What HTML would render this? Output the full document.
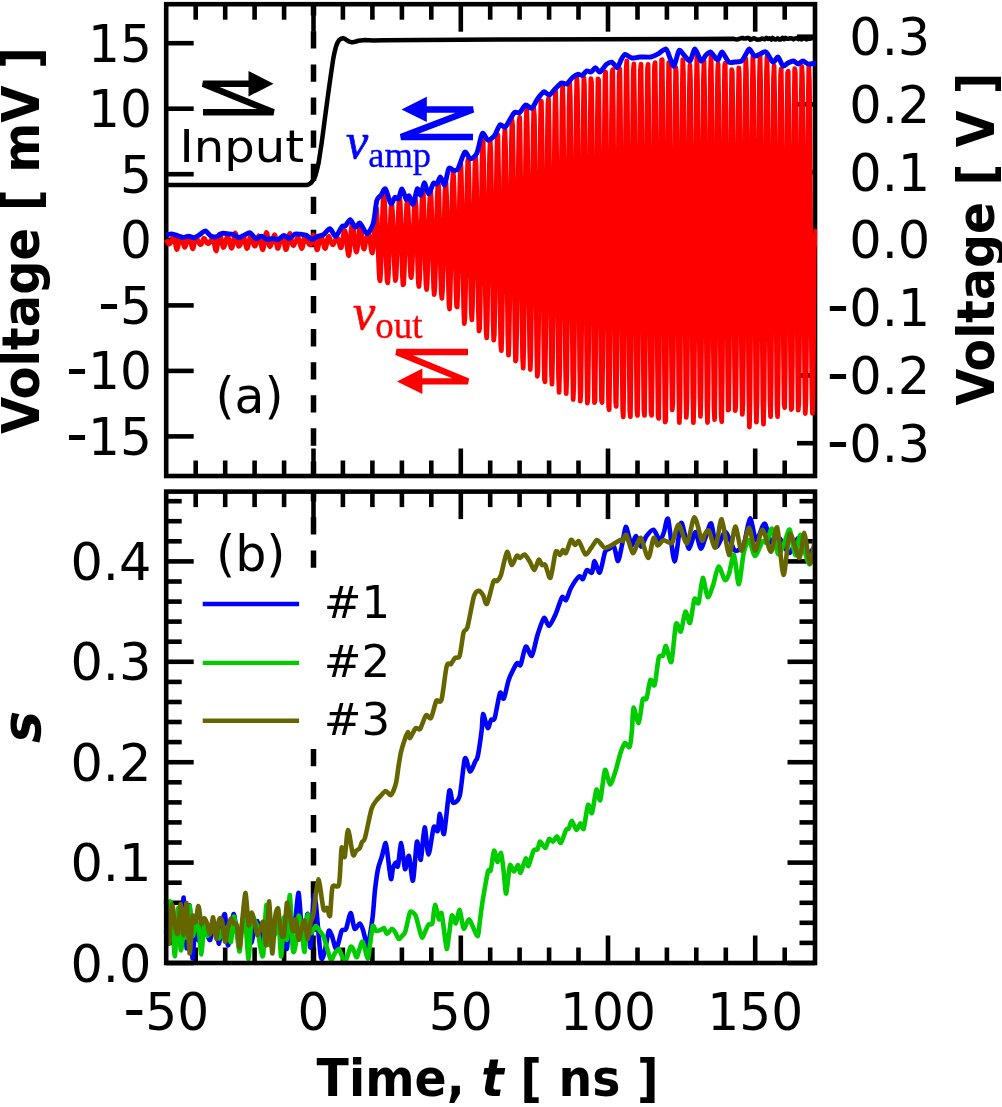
<!DOCTYPE html>
<html lang="en">
<head>
<meta charset="utf-8">
<title>Figure</title>
<style>
html,body{margin:0;padding:0;background:#fff;}
body{width:1002px;height:1107px;overflow:hidden;}
svg{display:block;}
</style>
</head>
<body>
<svg width="1002" height="1107" viewBox="0 0 1002 1107">
<rect x="0" y="0" width="1002" height="1107" fill="#ffffff"/>
<defs><clipPath id="clipA"><rect x="163.9" y="4.2" width="653.2" height="471.8"/></clipPath></defs>
<line x1="195.7" y1="4.2" x2="195.7" y2="19.7" stroke="#000" stroke-width="4.60" />
<line x1="195.7" y1="476.0" x2="195.7" y2="460.5" stroke="#000" stroke-width="4.60" />
<line x1="225.2" y1="4.2" x2="225.2" y2="19.7" stroke="#000" stroke-width="4.60" />
<line x1="225.2" y1="476.0" x2="225.2" y2="460.5" stroke="#000" stroke-width="4.60" />
<line x1="254.6" y1="4.2" x2="254.6" y2="19.7" stroke="#000" stroke-width="4.60" />
<line x1="254.6" y1="476.0" x2="254.6" y2="460.5" stroke="#000" stroke-width="4.60" />
<line x1="284.1" y1="4.2" x2="284.1" y2="19.7" stroke="#000" stroke-width="4.60" />
<line x1="284.1" y1="476.0" x2="284.1" y2="460.5" stroke="#000" stroke-width="4.60" />
<line x1="313.5" y1="4.2" x2="313.5" y2="31.7" stroke="#000" stroke-width="4.60" />
<line x1="313.5" y1="476.0" x2="313.5" y2="448.5" stroke="#000" stroke-width="4.60" />
<line x1="342.9" y1="4.2" x2="342.9" y2="19.7" stroke="#000" stroke-width="4.60" />
<line x1="342.9" y1="476.0" x2="342.9" y2="460.5" stroke="#000" stroke-width="4.60" />
<line x1="372.4" y1="4.2" x2="372.4" y2="19.7" stroke="#000" stroke-width="4.60" />
<line x1="372.4" y1="476.0" x2="372.4" y2="460.5" stroke="#000" stroke-width="4.60" />
<line x1="401.9" y1="4.2" x2="401.9" y2="19.7" stroke="#000" stroke-width="4.60" />
<line x1="401.9" y1="476.0" x2="401.9" y2="460.5" stroke="#000" stroke-width="4.60" />
<line x1="431.3" y1="4.2" x2="431.3" y2="19.7" stroke="#000" stroke-width="4.60" />
<line x1="431.3" y1="476.0" x2="431.3" y2="460.5" stroke="#000" stroke-width="4.60" />
<line x1="460.8" y1="4.2" x2="460.8" y2="31.7" stroke="#000" stroke-width="4.60" />
<line x1="460.8" y1="476.0" x2="460.8" y2="448.5" stroke="#000" stroke-width="4.60" />
<line x1="490.2" y1="4.2" x2="490.2" y2="19.7" stroke="#000" stroke-width="4.60" />
<line x1="490.2" y1="476.0" x2="490.2" y2="460.5" stroke="#000" stroke-width="4.60" />
<line x1="519.6" y1="4.2" x2="519.6" y2="19.7" stroke="#000" stroke-width="4.60" />
<line x1="519.6" y1="476.0" x2="519.6" y2="460.5" stroke="#000" stroke-width="4.60" />
<line x1="549.1" y1="4.2" x2="549.1" y2="19.7" stroke="#000" stroke-width="4.60" />
<line x1="549.1" y1="476.0" x2="549.1" y2="460.5" stroke="#000" stroke-width="4.60" />
<line x1="578.5" y1="4.2" x2="578.5" y2="19.7" stroke="#000" stroke-width="4.60" />
<line x1="578.5" y1="476.0" x2="578.5" y2="460.5" stroke="#000" stroke-width="4.60" />
<line x1="608.0" y1="4.2" x2="608.0" y2="31.7" stroke="#000" stroke-width="4.60" />
<line x1="608.0" y1="476.0" x2="608.0" y2="448.5" stroke="#000" stroke-width="4.60" />
<line x1="637.5" y1="4.2" x2="637.5" y2="19.7" stroke="#000" stroke-width="4.60" />
<line x1="637.5" y1="476.0" x2="637.5" y2="460.5" stroke="#000" stroke-width="4.60" />
<line x1="666.9" y1="4.2" x2="666.9" y2="19.7" stroke="#000" stroke-width="4.60" />
<line x1="666.9" y1="476.0" x2="666.9" y2="460.5" stroke="#000" stroke-width="4.60" />
<line x1="696.3" y1="4.2" x2="696.3" y2="19.7" stroke="#000" stroke-width="4.60" />
<line x1="696.3" y1="476.0" x2="696.3" y2="460.5" stroke="#000" stroke-width="4.60" />
<line x1="725.8" y1="4.2" x2="725.8" y2="19.7" stroke="#000" stroke-width="4.60" />
<line x1="725.8" y1="476.0" x2="725.8" y2="460.5" stroke="#000" stroke-width="4.60" />
<line x1="755.2" y1="4.2" x2="755.2" y2="31.7" stroke="#000" stroke-width="4.60" />
<line x1="755.2" y1="476.0" x2="755.2" y2="448.5" stroke="#000" stroke-width="4.60" />
<line x1="784.7" y1="4.2" x2="784.7" y2="19.7" stroke="#000" stroke-width="4.60" />
<line x1="784.7" y1="476.0" x2="784.7" y2="460.5" stroke="#000" stroke-width="4.60" />
<line x1="166.2" y1="436.4" x2="193.7" y2="436.4" stroke="#000" stroke-width="4.60" />
<line x1="166.2" y1="370.9" x2="193.7" y2="370.9" stroke="#000" stroke-width="4.60" />
<line x1="166.2" y1="305.4" x2="193.7" y2="305.4" stroke="#000" stroke-width="4.60" />
<line x1="166.2" y1="239.8" x2="193.7" y2="239.8" stroke="#000" stroke-width="4.60" />
<line x1="166.2" y1="174.2" x2="193.7" y2="174.2" stroke="#000" stroke-width="4.60" />
<line x1="166.2" y1="108.7" x2="193.7" y2="108.7" stroke="#000" stroke-width="4.60" />
<line x1="166.2" y1="43.2" x2="193.7" y2="43.2" stroke="#000" stroke-width="4.60" />
<line x1="815.0" y1="443.2" x2="797.0" y2="443.2" stroke="#000" stroke-width="4.60" />
<line x1="815.0" y1="375.4" x2="797.0" y2="375.4" stroke="#000" stroke-width="4.60" />
<line x1="815.0" y1="307.7" x2="797.0" y2="307.7" stroke="#000" stroke-width="4.60" />
<line x1="815.0" y1="239.9" x2="797.0" y2="239.9" stroke="#000" stroke-width="4.60" />
<line x1="815.0" y1="172.2" x2="797.0" y2="172.2" stroke="#000" stroke-width="4.60" />
<line x1="815.0" y1="104.4" x2="797.0" y2="104.4" stroke="#000" stroke-width="4.60" />
<line x1="815.0" y1="36.7" x2="797.0" y2="36.7" stroke="#000" stroke-width="4.60" />
<rect x="166.2" y="4.2" width="648.8" height="471.8" fill="none" stroke="#000" stroke-width="4.60"/>
<line x1="313.5" y1="4.2" x2="313.5" y2="476.0" stroke="#000" stroke-width="5.50" stroke-dasharray="17.3 15.79" stroke-dashoffset="6.0"/>
<path d="M166.2 185.0 L306.4 185.0 L309.0 184.3 L311.3 182.6 L313.3 180.0 L315.3 176.0 L317.0 170.0 L318.6 163.0 L321.8 142.0 L325.0 117.6 L328.3 93.0 L330.8 75.3 L333.2 59.0 L334.5 52.5 L335.7 47.6 L337.2 43.3 L338.9 40.3 L341.0 38.7 L343.0 38.2 L345.0 38.9 L347.0 40.3 L349.5 41.7 L352.0 42.4 L355.0 41.7 L358.4 40.8 L365.0 40.0 L373.0 40.5 L384.4 40.2 L420.0 40.0 L500.0 39.6 L600.0 39.2 L700.0 38.9 L734.0 38.8 L736.0 39.4 L737.6 39.4 L739.2 38.8 L740.8 38.4 L742.4 37.9 L744.0 38.6 L745.6 38.6 L747.2 37.9 L748.8 37.9 L750.4 39.8 L752.0 39.1 L753.6 38.3 L755.2 38.7 L756.8 39.7 L758.4 39.6 L760.0 39.5 L761.6 38.6 L763.2 38.8 L764.8 39.2 L766.4 37.9 L768.0 38.9 L769.6 38.3 L771.2 39.6 L772.8 37.9 L774.4 39.2 L776.0 39.5 L777.6 38.3 L779.2 39.6 L780.8 39.5 L782.4 37.8 L784.0 39.2 L785.6 37.8 L787.2 38.8 L788.8 38.7 L790.4 38.2 L792.0 38.4 L793.6 39.4 L795.2 38.4 L796.8 38.1 L798.4 39.2 L800.0 38.7 L801.6 39.4 L803.2 38.3 L804.8 38.4 L806.4 39.4 L808.0 38.8 L809.6 38.8 L811.2 38.3 L812.8 37.8 L815.0 38.8" fill="none" stroke="#000" stroke-width="4.50" stroke-linejoin="round" stroke-linecap="butt" />
<path d="M166.2 239.4 L166.8 240.6 L167.4 241.9 L168.0 243.0 L168.6 243.8 L169.2 244.0 L169.8 243.7 L170.4 243.0 L171.0 242.3 L171.6 241.1 L172.1 239.2 L172.7 237.2 L173.3 236.0 L173.9 236.1 L174.5 237.9 L175.1 241.4 L175.7 245.5 L176.3 248.4 L176.9 249.5 L177.4 248.7 L178.0 246.6 L178.6 243.8 L179.2 240.9 L179.8 238.8 L180.4 237.3 L181.0 236.7 L181.6 237.2 L182.2 238.8 L182.7 241.1 L183.3 243.7 L183.9 246.0 L184.5 247.3 L185.1 247.1 L185.7 245.8 L186.3 243.7 L186.9 241.4 L187.5 239.5 L188.0 238.2 L188.6 237.9 L189.2 238.3 L189.8 239.1 L190.4 240.8 L191.0 243.2 L191.6 245.8 L192.2 247.8 L192.8 248.7 L193.3 247.9 L193.9 245.3 L194.5 241.9 L195.1 239.1 L195.7 237.6 L196.3 237.5 L196.9 238.4 L197.5 239.8 L198.1 241.2 L198.6 242.2 L199.2 243.2 L199.8 244.1 L200.4 244.6 L201.0 244.5 L201.6 243.7 L202.2 242.2 L202.8 240.3 L203.4 238.9 L203.9 238.3 L204.5 238.6 L205.1 239.6 L205.7 240.8 L206.3 242.0 L206.9 242.9 L207.5 243.3 L208.1 243.6 L208.7 243.5 L209.2 243.0 L209.8 242.2 L210.4 241.2 L211.0 240.3 L211.6 239.7 L212.2 239.3 L212.8 239.0 L213.4 239.8 L214.0 241.8 L214.5 244.9 L215.1 248.0 L215.7 250.3 L216.3 250.9 L216.9 248.6 L217.5 244.4 L218.1 240.0 L218.7 236.4 L219.3 234.3 L219.8 234.0 L220.4 235.4 L221.0 238.1 L221.6 241.2 L222.2 244.2 L222.8 246.4 L223.4 247.4 L224.0 247.1 L224.6 245.7 L225.2 243.6 L225.7 241.3 L226.3 239.2 L226.9 237.6 L227.5 236.9 L228.1 237.2 L228.7 238.6 L229.3 240.8 L229.9 243.4 L230.5 245.7 L231.0 247.5 L231.6 248.2 L232.2 247.4 L232.8 245.1 L233.4 241.7 L234.0 237.9 L234.6 234.6 L235.2 233.0 L235.8 234.0 L236.3 236.6 L236.9 239.9 L237.5 243.0 L238.1 245.2 L238.7 246.2 L239.3 246.0 L239.9 245.3 L240.5 244.1 L241.1 242.2 L241.6 240.0 L242.2 237.9 L242.8 236.5 L243.4 236.2 L244.0 237.2 L244.6 239.5 L245.2 242.4 L245.8 245.3 L246.4 247.5 L246.9 248.5 L247.5 248.0 L248.1 246.1 L248.7 243.2 L249.3 239.9 L249.9 237.5 L250.5 236.2 L251.1 236.4 L251.7 237.6 L252.2 239.6 L252.8 241.8 L253.4 243.6 L254.0 245.2 L254.6 246.1 L255.2 246.1 L255.8 245.1 L256.4 243.3 L257.0 240.9 L257.5 238.6 L258.1 236.8 L258.7 235.9 L259.3 236.4 L259.9 238.2 L260.5 241.0 L261.1 244.3 L261.7 247.4 L262.3 249.4 L262.8 249.7 L263.4 248.2 L264.0 245.2 L264.6 241.2 L265.2 237.2 L265.8 234.1 L266.4 232.5 L267.0 233.0 L267.6 236.2 L268.1 240.1 L268.7 243.5 L269.3 245.8 L269.9 246.6 L270.5 246.0 L271.1 244.5 L271.7 243.0 L272.3 241.9 L272.9 240.0 L273.4 237.6 L274.0 235.6 L274.6 234.9 L275.2 235.9 L275.8 238.8 L276.4 243.1 L277.0 246.7 L277.6 248.4 L278.2 248.2 L278.7 246.6 L279.3 244.3 L279.9 242.3 L280.5 241.1 L281.1 240.3 L281.7 239.1 L282.3 238.2 L282.9 238.3 L283.5 239.5 L284.1 241.9 L284.6 245.0 L285.2 248.1 L285.8 249.6 L286.4 249.3 L287.0 247.2 L287.6 244.0 L288.2 240.1 L288.8 236.6 L289.4 234.2 L289.9 233.4 L290.5 235.2 L291.1 238.1 L291.7 241.2 L292.3 243.8 L292.9 245.2 L293.5 245.5 L294.1 244.7 L294.7 243.6 L295.2 242.8 L295.8 241.6 L296.4 240.1 L297.0 238.8 L297.6 238.0 L298.2 238.1 L298.8 239.0 L299.4 240.8 L300.0 243.2 L300.5 245.6 L301.1 247.6 L301.7 248.5 L302.3 247.8 L302.9 245.6 L303.5 242.1 L304.1 238.4 L304.7 236.2 L305.3 235.7 L305.8 236.7 L306.4 238.6 L307.0 240.6 L307.6 242.2 L308.2 242.9 L308.8 243.7 L309.4 244.6 L310.0 244.9 L310.6 244.2 L311.1 242.5 L311.7 240.2 L312.3 237.6 L312.9 235.6 L313.5 235.1 L314.1 236.2 L314.7 238.6 L315.3 241.9 L315.9 245.4 L316.4 248.2 L317.0 249.8 L317.6 249.5 L318.2 247.2 L318.8 243.9 L319.4 240.5 L320.0 237.7 L320.6 236.1 L321.2 235.8 L321.7 236.9 L322.3 238.8 L322.9 241.2 L323.5 243.9 L324.1 246.5 L324.7 248.2 L325.3 248.5 L325.9 247.3 L326.5 244.8 L327.0 241.4 L327.6 238.5 L328.2 236.8 L328.8 236.4 L329.4 237.4 L330.0 239.0 L330.6 240.8 L331.2 242.4 L331.8 243.8 L332.3 244.6 L332.9 244.8 L333.5 244.2 L334.1 243.0 L334.7 241.5 L335.3 240.2 L335.9 239.1 L336.5 238.1 L337.1 237.6 L337.6 238.0 L338.2 239.3 L338.8 241.4 L339.4 244.0 L340.0 246.4 L340.6 247.8 L341.2 247.7 L341.8 245.9 L342.4 242.3 L343.0 238.1 L343.5 234.2 L344.1 231.4 L344.7 230.5 L345.3 231.8 L345.9 234.8 L346.5 239.7 L347.1 245.6 L347.7 251.1 L348.3 254.8 L348.8 255.5 L349.4 252.5 L350.0 246.0 L350.6 237.4 L351.2 229.9 L351.8 225.2 L352.4 224.1 L353.0 226.5 L353.6 231.4 L354.1 237.5 L354.7 243.3 L355.3 247.7 L355.9 251.0 L356.5 252.1 L357.1 250.3 L357.7 246.0 L358.3 239.9 L358.9 233.4 L359.4 227.8 L360.0 224.6 L360.6 226.0 L361.2 230.2 L361.8 235.8 L362.4 241.6 L363.0 246.2 L363.6 248.8 L364.2 249.0 L364.7 247.2 L365.3 244.1 L365.9 240.8 L366.5 238.0 L367.1 236.1 L367.7 234.0 L368.3 232.8 L368.9 233.3 L369.5 235.8 L370.0 239.9 L370.6 244.9 L371.2 249.6 L371.8 252.6 L372.4 252.9 L373.0 250.1 L373.6 244.8 L374.2 236.1 L374.8 224.9 L375.3 214.3 L375.9 207.7 L376.5 208.3 L377.1 218.2 L377.7 234.7 L378.3 252.9 L378.9 269.0 L379.5 279.1 L380.1 280.8 L380.6 273.4 L381.2 258.3 L381.8 238.5 L382.4 218.3 L383.0 202.1 L383.6 193.7 L384.2 195.4 L384.8 207.0 L385.4 226.2 L385.9 248.9 L386.5 268.2 L387.1 280.2 L387.7 282.8 L388.3 276.0 L388.9 262.1 L389.5 244.4 L390.1 227.2 L390.7 214.1 L391.2 205.7 L391.8 204.2 L392.4 210.6 L393.0 223.8 L393.6 241.3 L394.2 259.3 L394.8 273.7 L395.4 280.5 L396.0 278.0 L396.5 267.3 L397.1 250.7 L397.7 231.9 L398.3 215.1 L398.9 202.6 L399.5 197.4 L400.1 201.4 L400.7 214.6 L401.3 234.4 L401.9 257.0 L402.4 275.4 L403.0 284.9 L403.6 284.2 L404.2 273.9 L404.8 257.0 L405.4 237.6 L406.0 219.9 L406.6 206.6 L407.2 199.9 L407.7 201.9 L408.3 212.5 L408.9 229.7 L409.5 249.4 L410.1 266.0 L410.7 276.0 L411.3 277.5 L411.9 270.8 L412.5 257.7 L413.0 241.6 L413.6 224.9 L414.2 209.8 L414.8 200.1 L415.4 198.9 L416.0 207.5 L416.6 224.6 L417.2 247.1 L417.8 268.4 L418.3 282.5 L418.9 286.5 L419.5 280.0 L420.1 264.9 L420.7 244.9 L421.3 223.9 L421.9 204.6 L422.5 192.1 L423.1 189.8 L423.6 199.3 L424.2 219.3 L424.8 245.4 L425.4 269.0 L426.0 284.7 L426.6 289.5 L427.2 282.9 L427.8 267.2 L428.4 246.3 L428.9 224.8 L429.5 205.6 L430.1 193.5 L430.7 191.7 L431.3 201.2 L431.9 220.3 L432.5 245.0 L433.1 269.6 L433.7 287.9 L434.2 294.6 L434.8 288.6 L435.4 271.5 L436.0 247.0 L436.6 221.0 L437.2 199.0 L437.8 185.4 L438.4 184.2 L439.0 196.2 L439.5 219.1 L440.1 247.8 L440.7 275.1 L441.3 293.2 L441.9 298.3 L442.5 289.9 L443.1 270.2 L443.7 244.2 L444.3 218.2 L444.8 197.0 L445.4 183.8 L446.0 183.4 L446.6 196.9 L447.2 222.1 L447.8 253.5 L448.4 283.7 L449.0 304.6 L449.6 309.0 L450.1 296.9 L450.7 271.5 L451.3 238.7 L451.9 206.4 L452.5 182.2 L453.1 171.8 L453.7 177.7 L454.3 198.0 L454.9 228.4 L455.4 261.7 L456.0 290.0 L456.6 306.4 L457.2 306.9 L457.8 291.3 L458.4 263.4 L459.0 228.9 L459.6 195.7 L460.2 172.1 L460.8 164.2 L461.3 174.7 L461.9 201.6 L462.5 238.9 L463.1 277.7 L463.7 308.6 L464.3 323.6 L464.9 318.1 L465.5 292.0 L466.1 253.7 L466.6 212.6 L467.2 178.7 L467.8 160.2 L468.4 161.2 L469.0 181.3 L469.6 215.3 L470.2 254.6 L470.8 290.3 L471.4 314.1 L471.9 319.8 L472.5 305.9 L473.1 275.4 L473.7 235.7 L474.3 196.5 L474.9 167.6 L475.5 156.2 L476.1 165.4 L476.7 193.1 L477.2 232.5 L477.8 275.5 L478.4 311.5 L479.0 331.0 L479.6 328.4 L480.2 303.1 L480.8 260.8 L481.4 211.3 L482.0 167.0 L482.5 140.4 L483.1 139.7 L483.7 163.6 L484.3 205.9 L484.9 256.0 L485.5 301.3 L486.1 331.0 L486.7 337.8 L487.3 320.3 L487.8 283.3 L488.4 235.9 L489.0 189.1 L489.6 154.5 L490.2 140.9 L490.8 151.9 L491.4 185.0 L492.0 232.0 L492.6 281.4 L493.1 320.8 L493.7 340.2 L494.3 334.7 L494.9 305.8 L495.5 259.6 L496.1 207.4 L496.7 162.2 L497.3 135.6 L497.9 134.8 L498.4 160.6 L499.0 206.9 L499.6 262.6 L500.2 313.3 L500.8 345.2 L501.4 350.7 L502.0 328.4 L502.6 284.0 L503.2 228.7 L503.7 176.4 L504.3 140.3 L504.9 129.2 L505.5 145.8 L506.1 185.5 L506.7 239.7 L507.3 294.9 L507.9 337.0 L508.5 355.1 L509.0 344.2 L509.6 306.6 L510.2 251.3 L510.8 192.2 L511.4 144.3 L512.0 120.0 L512.6 125.7 L513.2 160.7 L513.8 216.4 L514.3 278.8 L514.9 331.5 L515.5 361.0 L516.1 359.8 L516.7 328.1 L517.3 274.1 L517.9 211.3 L518.5 155.8 L519.1 121.6 L519.7 117.3 L520.2 143.7 L520.8 195.0 L521.4 258.4 L522.0 317.8 L522.6 357.9 L523.2 368.2 L523.8 345.7 L524.4 295.8 L525.0 230.9 L525.5 167.6 L526.1 122.9 L526.7 108.3 L527.3 127.3 L527.9 174.9 L528.5 238.8 L529.1 302.7 L529.7 350.3 L530.3 369.5 L530.8 355.4 L531.4 311.8 L532.0 250.0 L532.6 184.9 L533.2 133.0 L533.8 108.0 L534.4 116.7 L535.0 157.4 L535.6 220.1 L536.1 288.8 L536.7 345.9 L537.3 376.3 L537.9 371.5 L538.5 332.5 L539.1 269.0 L539.7 197.3 L540.3 135.8 L540.9 100.8 L541.4 101.5 L542.0 138.2 L542.6 201.5 L543.2 275.4 L543.8 340.7 L544.4 379.3 L545.0 381.8 L545.6 347.5 L546.2 285.5 L546.7 212.1 L547.3 146.1 L547.9 104.8 L548.5 98.6 L549.1 129.1 L549.7 187.8 L550.3 260.4 L550.9 328.2 L551.5 373.5 L552.0 384.2 L552.6 357.3 L553.2 299.4 L553.8 225.3 L554.4 154.4 L555.0 105.2 L555.6 91.0 L556.2 115.6 L556.8 173.1 L557.3 248.5 L557.9 322.2 L558.5 374.9 L559.1 392.4 L559.7 370.0 L560.3 313.2 L560.9 236.6 L561.5 160.3 L562.1 105.0 L562.6 85.0 L563.2 105.7 L563.8 161.4 L564.4 237.7 L565.0 314.3 L565.6 371.3 L566.2 393.7 L566.8 375.7 L567.4 322.4 L567.9 247.0 L568.5 169.1 L569.1 109.1 L569.7 83.1 L570.3 98.2 L570.9 150.9 L571.5 227.5 L572.1 307.9 L572.7 370.8 L573.2 399.5 L573.8 386.2 L574.4 334.2 L575.0 257.0 L575.6 174.9 L576.2 109.5 L576.8 78.1 L577.4 89.3 L578.0 140.4 L578.6 217.9 L579.1 301.1 L579.7 368.1 L580.3 401.2 L580.9 391.7 L581.5 342.2 L582.1 265.7 L582.7 182.3 L583.3 113.5 L583.9 77.7 L584.4 84.6 L585.0 132.7 L585.6 209.4 L586.2 294.7 L586.8 365.7 L587.4 403.1 L588.0 397.3 L588.6 350.0 L589.2 273.7 L589.7 188.7 L590.3 117.4 L590.9 78.7 L591.5 82.1 L592.1 127.3 L592.7 202.5 L593.3 288.1 L593.9 361.3 L594.5 402.6 L595.0 401.0 L595.6 356.3 L596.2 280.4 L596.8 194.2 L597.4 120.6 L598.0 78.8 L598.6 79.9 L599.2 123.2 L599.8 197.2 L600.3 282.3 L600.9 356.9 L601.5 400.9 L602.1 402.4 L602.7 360.6 L603.3 286.1 L603.9 198.5 L604.5 121.2 L605.1 74.8 L605.6 72.0 L606.2 114.1 L606.8 190.2 L607.4 279.8 L608.0 358.9 L608.6 406.4 L609.2 409.7 L609.8 367.7 L610.4 291.6 L610.9 201.5 L611.5 121.4 L612.1 73.1 L612.7 69.7 L613.3 111.4 L613.9 187.0 L614.5 276.0 L615.1 354.7 L615.7 402.3 L616.2 406.4 L616.8 366.1 L617.4 292.8 L618.0 205.2 L618.6 125.6 L619.2 75.5 L619.8 68.9 L620.4 108.2 L621.0 183.4 L621.5 274.9 L622.1 357.8 L622.7 409.9 L623.3 416.8 L623.9 376.2 L624.5 298.5 L625.1 204.4 L625.7 119.6 L626.3 67.2 L626.8 61.0 L627.4 102.6 L628.0 180.8 L628.6 274.6 L629.2 358.6 L629.8 410.6 L630.4 416.7 L631.0 375.4 L631.6 298.1 L632.1 205.5 L632.7 122.2 L633.3 70.4 L633.9 64.0 L634.5 104.8 L635.1 181.8 L635.7 274.4 L636.3 357.6 L636.9 409.2 L637.5 415.4 L638.0 374.4 L638.6 297.2 L639.2 204.7 L639.8 121.4 L640.4 70.0 L641.0 64.2 L641.6 105.6 L642.2 183.1 L642.8 275.9 L643.3 359.0 L643.9 410.1 L644.5 415.4 L645.1 373.4 L645.7 295.4 L646.3 202.4 L646.9 119.4 L647.5 68.9 L648.1 64.3 L648.6 107.1 L649.2 185.6 L649.8 278.8 L650.4 361.5 L651.0 411.5 L651.6 415.4 L652.2 371.9 L652.8 292.5 L653.4 198.6 L653.9 115.4 L654.5 65.6 L655.1 62.7 L655.7 107.7 L656.3 188.6 L656.9 283.7 L657.5 367.3 L658.1 416.6 L658.7 418.4 L659.2 371.8 L659.8 289.1 L660.4 192.7 L661.0 108.6 L661.6 59.8 L662.2 59.7 L662.8 108.4 L663.4 192.8 L664.0 290.3 L664.5 374.3 L665.1 422.0 L665.7 420.5 L666.3 369.3 L666.9 283.3 L667.5 186.9 L668.1 106.2 L668.7 62.7 L669.3 67.5 L669.8 118.7 L670.4 201.7 L671.0 293.7 L671.6 369.9 L672.2 409.9 L672.8 403.6 L673.4 353.2 L674.0 272.8 L674.6 183.7 L675.1 108.2 L675.7 67.3 L676.3 73.0 L676.9 124.6 L677.5 208.9 L678.1 303.4 L678.7 382.3 L679.3 422.5 L679.9 411.9 L680.4 354.7 L681.0 266.6 L681.6 171.8 L682.2 95.9 L682.8 59.6 L683.4 72.4 L684.0 130.6 L684.6 218.2 L685.2 311.2 L685.7 384.1 L686.3 417.4 L686.9 402.1 L687.5 342.8 L688.1 255.9 L688.7 165.1 L689.3 95.3 L689.9 65.2 L690.5 81.5 L691.0 141.1 L691.6 228.9 L692.2 321.1 L692.8 392.3 L693.4 422.7 L694.0 403.2 L694.6 338.4 L695.2 245.4 L695.8 151.1 L696.4 82.0 L696.9 56.5 L697.5 81.1 L698.1 148.5 L698.7 239.8 L699.3 330.1 L699.9 394.6 L700.5 416.4 L701.1 390.1 L701.7 324.1 L702.2 234.3 L702.8 145.3 L703.4 81.5 L704.0 60.5 L704.6 88.5 L705.2 158.3 L705.8 250.9 L706.4 341.2 L707.0 404.2 L707.5 422.5 L708.1 390.9 L708.7 317.7 L709.3 222.9 L709.9 132.2 L710.5 70.5 L711.1 55.9 L711.7 91.5 L712.3 167.2 L712.8 262.1 L713.4 350.4 L714.0 408.0 L714.6 419.5 L715.2 382.0 L715.8 306.0 L716.4 212.4 L717.0 126.9 L717.6 72.7 L718.1 63.9 L718.7 102.1 L719.3 178.6 L719.9 273.0 L720.5 359.4 L721.1 414.1 L721.7 421.6 L722.3 378.5 L722.9 297.0 L723.4 200.8 L724.0 116.0 L724.6 65.8 L725.2 63.3 L725.8 108.8 L726.4 189.5 L727.0 283.0 L727.6 363.9 L728.2 410.1 L728.7 409.6 L729.3 363.6 L729.9 283.9 L730.5 192.2 L731.1 113.6 L731.7 69.6 L732.3 72.1 L732.9 120.3 L733.5 201.1 L734.0 292.3 L734.6 369.1 L735.2 410.6 L735.8 405.4 L736.4 355.0 L737.0 273.2 L737.6 182.3 L738.2 107.1 L738.8 67.9 L739.3 75.7 L739.9 128.4 L740.5 211.5 L741.1 302.6 L741.7 376.7 L742.3 414.4 L742.9 404.5 L743.5 349.3 L744.1 263.4 L744.6 170.0 L745.2 94.9 L745.8 58.7 L746.4 71.8 L747.0 131.3 L747.6 221.1 L748.2 316.9 L748.8 392.6 L749.4 427.0 L749.9 409.0 L750.5 345.0 L751.1 252.9 L751.7 157.9 L752.3 86.0 L752.9 56.4 L753.5 77.0 L754.1 141.7 L754.7 232.5 L755.3 325.1 L755.8 394.7 L756.4 422.1 L757.0 399.8 L757.6 333.6 L758.2 241.6 L758.8 148.8 L759.4 80.6 L760.0 55.8 L760.6 81.3 L761.1 150.2 L761.7 243.7 L762.3 336.1 L762.9 402.4 L763.5 424.2 L764.1 395.8 L764.7 324.7 L765.3 230.3 L765.9 138.5 L766.4 74.9 L767.0 56.9 L767.6 88.8 L768.2 161.4 L768.8 254.6 L769.4 342.7 L770.0 402.0 L770.6 416.6 L771.2 383.0 L771.7 310.9 L772.3 220.1 L772.9 135.5 L773.5 78.9 L774.1 65.9 L774.7 100.4 L775.3 173.4 L775.9 265.1 L776.5 350.5 L777.0 406.2 L777.6 416.7 L778.2 378.3 L778.8 301.7 L779.4 209.2 L780.0 126.1 L780.6 74.8 L781.2 68.8 L781.8 109.4 L782.3 184.9 L782.9 274.4 L783.5 354.3 L784.1 403.2 L784.7 407.6 L785.3 366.1 L785.9 289.8 L786.5 199.6 L787.1 120.0 L787.6 72.8 L788.2 71.2 L788.8 115.8 L789.4 194.3 L790.0 285.6 L790.6 364.5 L791.2 409.5 L791.8 408.3 L792.4 361.0 L792.9 280.4 L793.5 188.5 L794.1 110.9 L794.7 68.7 L795.3 73.3 L795.9 123.2 L796.5 204.8 L797.1 295.5 L797.7 370.7 L798.2 410.2 L798.8 403.6 L799.4 352.1 L800.0 269.7 L800.6 178.7 L801.2 104.1 L801.8 66.3 L802.4 75.8 L803.0 130.2 L803.5 214.9 L804.1 306.2 L804.7 379.0 L805.3 413.5 L805.9 400.6 L806.5 343.9 L807.1 259.1 L807.7 169.3 L808.3 99.0 L808.8 67.0 L809.4 82.2 L810.0 140.4 L810.6 225.8 L811.2 315.1 L811.8 383.8 L812.4 413.3 L813.0 395.3 L813.6 334.9 L814.2 248.5 L816.2 229.0" fill="none" stroke="#ff0000" stroke-width="4.80" stroke-linejoin="round" stroke-linecap="butt" clip-path="url(#clipA)"/>
<path d="M166.2 234.8 C166.9 234.7 170.3 233.8 171.8 233.9 C173.3 234.0 175.9 235.1 177.4 235.6 C178.9 236.1 181.5 237.3 183.0 237.4 C184.5 237.5 187.1 236.1 188.6 236.1 C190.1 236.2 192.7 237.9 194.2 237.7 C195.7 237.5 198.3 235.5 199.8 234.6 C201.3 233.7 203.9 230.7 205.4 230.9 C206.9 231.1 209.5 235.5 211.0 236.2 C212.5 237.0 215.1 237.0 216.6 236.6 C218.1 236.2 220.7 233.8 222.2 233.4 C223.7 233.0 226.3 233.6 227.8 233.8 C229.3 233.9 231.9 234.0 233.4 234.5 C234.9 235.0 237.5 237.4 239.0 237.5 C240.5 237.6 243.1 235.5 244.6 234.9 C246.1 234.3 248.7 232.3 250.2 232.8 C251.7 233.3 254.3 238.3 255.8 238.7 C257.3 239.1 259.9 236.0 261.4 236.1 C262.9 236.2 265.5 239.1 267.0 239.4 C268.5 239.8 271.1 238.5 272.6 238.5 C274.1 238.5 276.7 239.8 278.2 239.4 C279.7 239.0 282.3 235.6 283.8 235.5 C285.3 235.4 287.9 238.7 289.4 238.5 C290.9 238.3 293.5 234.6 295.0 234.0 C296.5 233.5 299.1 234.2 300.6 234.3 C302.1 234.5 304.7 234.7 306.2 235.3 C307.7 236.0 310.3 239.3 311.8 239.4 C313.3 239.6 315.9 237.0 317.4 236.4 C318.9 235.8 321.3 236.0 323.0 234.9 C324.7 233.9 328.3 228.5 330.0 228.7 C331.7 228.9 334.0 236.7 335.6 236.4 C337.2 236.1 340.6 228.0 341.9 226.6 C343.2 225.2 344.3 226.8 345.4 225.9 C346.5 225.0 349.0 219.4 350.3 219.6 C351.6 219.8 353.9 226.8 355.2 227.3 C356.5 227.8 358.4 222.3 360.0 223.1 C361.6 223.9 365.2 233.6 367.0 233.6 C368.8 233.6 372.0 227.5 373.3 223.1 C374.6 218.7 375.8 204.4 376.8 200.7 C377.8 197.0 379.8 196.8 381.0 195.2 C382.2 193.6 384.2 187.8 385.5 188.9 C386.8 190.0 389.5 202.4 390.8 203.5 C392.1 204.6 394.0 197.9 395.0 197.2 C396.0 196.5 397.6 199.7 398.5 198.6 C399.4 197.5 401.0 188.8 402.0 188.9 C403.0 189.0 405.3 198.4 406.2 199.3 C407.1 200.2 408.1 195.1 409.0 195.8 C409.9 196.5 412.0 205.1 413.1 204.2 C414.2 203.3 416.3 190.1 417.3 188.9 C418.3 187.7 419.9 196.0 420.8 195.2 C421.7 194.4 423.3 182.8 424.3 182.6 C425.3 182.4 427.3 193.7 428.5 193.8 C429.7 193.9 432.3 184.6 433.4 183.3 C434.5 182.0 436.0 184.8 436.9 184.0 C437.8 183.2 439.4 176.9 440.4 177.0 C441.4 177.1 443.5 185.8 444.6 184.7 C445.7 183.6 447.6 170.4 448.8 168.5 C450.0 166.6 452.6 170.5 453.8 170.5 C455.0 170.5 456.5 171.1 458.0 168.7 C459.5 166.3 463.2 153.5 464.8 152.2 C466.4 150.9 468.7 158.7 470.3 158.8 C471.9 158.9 475.2 156.7 476.8 153.3 C478.4 149.9 480.8 135.3 482.3 133.5 C483.8 131.7 486.2 139.7 487.8 140.0 C489.4 140.3 492.8 137.7 494.4 135.7 C496.0 133.7 498.5 126.0 500.0 124.8 C501.5 123.6 503.5 128.6 505.4 127.0 C507.3 125.4 512.3 114.6 514.2 112.7 C516.1 110.8 518.1 113.7 519.6 112.7 C521.1 111.7 524.0 105.6 525.6 105.0 C527.2 104.4 530.1 109.1 531.7 108.3 C533.3 107.5 535.9 101.2 537.5 99.0 C539.1 96.8 542.2 92.3 543.8 91.8 C545.4 91.3 547.8 95.4 549.3 95.0 C550.8 94.6 553.4 90.6 555.0 89.0 C556.6 87.4 559.8 83.7 561.4 83.0 C563.0 82.3 565.5 84.7 566.9 84.0 C568.3 83.3 570.5 79.3 572.0 78.0 C573.5 76.7 576.4 74.6 577.8 74.3 C579.2 74.0 581.0 75.8 582.2 75.4 C583.4 75.0 585.4 71.5 586.6 71.0 C587.8 70.5 589.8 72.4 591.0 72.0 C592.2 71.6 594.2 67.7 595.4 67.7 C596.6 67.7 598.3 72.4 599.8 72.0 C601.3 71.6 604.8 65.7 606.4 64.4 C608.0 63.1 610.4 61.8 611.9 62.2 C613.4 62.6 616.1 68.0 617.3 67.7 C618.5 67.4 620.0 61.8 621.0 60.0 C622.0 58.2 623.5 54.8 625.0 54.5 C626.5 54.2 630.0 57.7 632.0 58.0 C634.0 58.3 637.5 57.1 640.0 57.0 C642.5 56.9 648.6 57.4 651.0 57.0 C653.4 56.6 656.0 55.1 658.0 54.0 C660.0 52.9 664.4 48.5 666.0 49.0 C667.6 49.5 668.9 55.7 670.0 58.0 C671.1 60.3 672.8 67.0 674.0 66.0 C675.2 65.0 677.7 52.1 679.0 50.6 C680.3 49.1 682.5 53.6 684.0 55.0 C685.5 56.4 688.5 61.8 690.0 61.0 C691.5 60.2 693.5 49.0 695.0 49.0 C696.5 49.0 699.5 60.2 701.0 61.0 C702.5 61.8 704.7 56.2 706.0 55.0 C707.3 53.8 709.4 51.9 710.5 52.0 C711.6 52.1 713.0 54.9 714.0 56.0 C715.0 57.1 716.9 60.5 718.0 60.0 C719.1 59.5 720.6 51.7 722.0 52.0 C723.4 52.3 727.0 60.7 728.7 62.0 C730.4 63.3 733.3 62.1 735.0 62.0 C736.7 61.9 740.1 62.1 741.6 61.0 C743.1 59.9 745.0 55.6 746.0 54.0 C747.0 52.4 748.3 48.7 749.4 49.0 C750.5 49.3 753.2 55.3 754.6 56.0 C756.0 56.7 758.5 54.5 760.0 54.0 C761.5 53.5 764.3 50.9 766.0 52.0 C767.7 53.1 771.4 61.3 773.0 62.0 C774.6 62.7 776.7 56.5 778.0 57.0 C779.3 57.5 781.7 65.2 783.0 66.0 C784.3 66.8 786.6 63.7 788.0 63.0 C789.4 62.3 792.2 60.9 793.5 61.0 C794.8 61.1 796.7 64.0 798.0 64.0 C799.3 64.0 801.7 61.0 803.0 61.0 C804.3 61.0 806.7 63.7 808.0 64.0 C809.3 64.3 811.9 63.7 813.0 63.6 C814.1 63.5 815.6 63.6 816.0 63.6" fill="none" stroke="#0000ff" stroke-width="4.90" stroke-linejoin="round" stroke-linecap="butt" />
<line x1="195.7" y1="491.6" x2="195.7" y2="507.1" stroke="#000" stroke-width="4.60" />
<line x1="195.7" y1="963.0" x2="195.7" y2="947.5" stroke="#000" stroke-width="4.60" />
<line x1="225.2" y1="491.6" x2="225.2" y2="507.1" stroke="#000" stroke-width="4.60" />
<line x1="225.2" y1="963.0" x2="225.2" y2="947.5" stroke="#000" stroke-width="4.60" />
<line x1="254.6" y1="491.6" x2="254.6" y2="507.1" stroke="#000" stroke-width="4.60" />
<line x1="254.6" y1="963.0" x2="254.6" y2="947.5" stroke="#000" stroke-width="4.60" />
<line x1="284.1" y1="491.6" x2="284.1" y2="507.1" stroke="#000" stroke-width="4.60" />
<line x1="284.1" y1="963.0" x2="284.1" y2="947.5" stroke="#000" stroke-width="4.60" />
<line x1="313.5" y1="491.6" x2="313.5" y2="519.1" stroke="#000" stroke-width="4.60" />
<line x1="313.5" y1="963.0" x2="313.5" y2="935.5" stroke="#000" stroke-width="4.60" />
<line x1="342.9" y1="491.6" x2="342.9" y2="507.1" stroke="#000" stroke-width="4.60" />
<line x1="342.9" y1="963.0" x2="342.9" y2="947.5" stroke="#000" stroke-width="4.60" />
<line x1="372.4" y1="491.6" x2="372.4" y2="507.1" stroke="#000" stroke-width="4.60" />
<line x1="372.4" y1="963.0" x2="372.4" y2="947.5" stroke="#000" stroke-width="4.60" />
<line x1="401.9" y1="491.6" x2="401.9" y2="507.1" stroke="#000" stroke-width="4.60" />
<line x1="401.9" y1="963.0" x2="401.9" y2="947.5" stroke="#000" stroke-width="4.60" />
<line x1="431.3" y1="491.6" x2="431.3" y2="507.1" stroke="#000" stroke-width="4.60" />
<line x1="431.3" y1="963.0" x2="431.3" y2="947.5" stroke="#000" stroke-width="4.60" />
<line x1="460.8" y1="491.6" x2="460.8" y2="519.1" stroke="#000" stroke-width="4.60" />
<line x1="460.8" y1="963.0" x2="460.8" y2="935.5" stroke="#000" stroke-width="4.60" />
<line x1="490.2" y1="491.6" x2="490.2" y2="507.1" stroke="#000" stroke-width="4.60" />
<line x1="490.2" y1="963.0" x2="490.2" y2="947.5" stroke="#000" stroke-width="4.60" />
<line x1="519.6" y1="491.6" x2="519.6" y2="507.1" stroke="#000" stroke-width="4.60" />
<line x1="519.6" y1="963.0" x2="519.6" y2="947.5" stroke="#000" stroke-width="4.60" />
<line x1="549.1" y1="491.6" x2="549.1" y2="507.1" stroke="#000" stroke-width="4.60" />
<line x1="549.1" y1="963.0" x2="549.1" y2="947.5" stroke="#000" stroke-width="4.60" />
<line x1="578.5" y1="491.6" x2="578.5" y2="507.1" stroke="#000" stroke-width="4.60" />
<line x1="578.5" y1="963.0" x2="578.5" y2="947.5" stroke="#000" stroke-width="4.60" />
<line x1="608.0" y1="491.6" x2="608.0" y2="519.1" stroke="#000" stroke-width="4.60" />
<line x1="608.0" y1="963.0" x2="608.0" y2="935.5" stroke="#000" stroke-width="4.60" />
<line x1="637.5" y1="491.6" x2="637.5" y2="507.1" stroke="#000" stroke-width="4.60" />
<line x1="637.5" y1="963.0" x2="637.5" y2="947.5" stroke="#000" stroke-width="4.60" />
<line x1="666.9" y1="491.6" x2="666.9" y2="507.1" stroke="#000" stroke-width="4.60" />
<line x1="666.9" y1="963.0" x2="666.9" y2="947.5" stroke="#000" stroke-width="4.60" />
<line x1="696.3" y1="491.6" x2="696.3" y2="507.1" stroke="#000" stroke-width="4.60" />
<line x1="696.3" y1="963.0" x2="696.3" y2="947.5" stroke="#000" stroke-width="4.60" />
<line x1="725.8" y1="491.6" x2="725.8" y2="507.1" stroke="#000" stroke-width="4.60" />
<line x1="725.8" y1="963.0" x2="725.8" y2="947.5" stroke="#000" stroke-width="4.60" />
<line x1="755.2" y1="491.6" x2="755.2" y2="519.1" stroke="#000" stroke-width="4.60" />
<line x1="755.2" y1="963.0" x2="755.2" y2="935.5" stroke="#000" stroke-width="4.60" />
<line x1="784.7" y1="491.6" x2="784.7" y2="507.1" stroke="#000" stroke-width="4.60" />
<line x1="784.7" y1="963.0" x2="784.7" y2="947.5" stroke="#000" stroke-width="4.60" />
<line x1="166.2" y1="963.0" x2="193.7" y2="963.0" stroke="#000" stroke-width="4.60" />
<line x1="815.0" y1="963.0" x2="787.5" y2="963.0" stroke="#000" stroke-width="4.60" />
<line x1="166.2" y1="942.9" x2="181.7" y2="942.9" stroke="#000" stroke-width="4.60" />
<line x1="815.0" y1="942.9" x2="799.5" y2="942.9" stroke="#000" stroke-width="4.60" />
<line x1="166.2" y1="922.8" x2="181.7" y2="922.8" stroke="#000" stroke-width="4.60" />
<line x1="815.0" y1="922.8" x2="799.5" y2="922.8" stroke="#000" stroke-width="4.60" />
<line x1="166.2" y1="902.8" x2="181.7" y2="902.8" stroke="#000" stroke-width="4.60" />
<line x1="815.0" y1="902.8" x2="799.5" y2="902.8" stroke="#000" stroke-width="4.60" />
<line x1="166.2" y1="882.7" x2="181.7" y2="882.7" stroke="#000" stroke-width="4.60" />
<line x1="815.0" y1="882.7" x2="799.5" y2="882.7" stroke="#000" stroke-width="4.60" />
<line x1="166.2" y1="862.6" x2="193.7" y2="862.6" stroke="#000" stroke-width="4.60" />
<line x1="815.0" y1="862.6" x2="787.5" y2="862.6" stroke="#000" stroke-width="4.60" />
<line x1="166.2" y1="842.5" x2="181.7" y2="842.5" stroke="#000" stroke-width="4.60" />
<line x1="815.0" y1="842.5" x2="799.5" y2="842.5" stroke="#000" stroke-width="4.60" />
<line x1="166.2" y1="822.4" x2="181.7" y2="822.4" stroke="#000" stroke-width="4.60" />
<line x1="815.0" y1="822.4" x2="799.5" y2="822.4" stroke="#000" stroke-width="4.60" />
<line x1="166.2" y1="802.4" x2="181.7" y2="802.4" stroke="#000" stroke-width="4.60" />
<line x1="815.0" y1="802.4" x2="799.5" y2="802.4" stroke="#000" stroke-width="4.60" />
<line x1="166.2" y1="782.3" x2="181.7" y2="782.3" stroke="#000" stroke-width="4.60" />
<line x1="815.0" y1="782.3" x2="799.5" y2="782.3" stroke="#000" stroke-width="4.60" />
<line x1="166.2" y1="762.2" x2="193.7" y2="762.2" stroke="#000" stroke-width="4.60" />
<line x1="815.0" y1="762.2" x2="787.5" y2="762.2" stroke="#000" stroke-width="4.60" />
<line x1="166.2" y1="742.1" x2="181.7" y2="742.1" stroke="#000" stroke-width="4.60" />
<line x1="815.0" y1="742.1" x2="799.5" y2="742.1" stroke="#000" stroke-width="4.60" />
<line x1="166.2" y1="722.0" x2="181.7" y2="722.0" stroke="#000" stroke-width="4.60" />
<line x1="815.0" y1="722.0" x2="799.5" y2="722.0" stroke="#000" stroke-width="4.60" />
<line x1="166.2" y1="702.0" x2="181.7" y2="702.0" stroke="#000" stroke-width="4.60" />
<line x1="815.0" y1="702.0" x2="799.5" y2="702.0" stroke="#000" stroke-width="4.60" />
<line x1="166.2" y1="681.9" x2="181.7" y2="681.9" stroke="#000" stroke-width="4.60" />
<line x1="815.0" y1="681.9" x2="799.5" y2="681.9" stroke="#000" stroke-width="4.60" />
<line x1="166.2" y1="661.8" x2="193.7" y2="661.8" stroke="#000" stroke-width="4.60" />
<line x1="815.0" y1="661.8" x2="787.5" y2="661.8" stroke="#000" stroke-width="4.60" />
<line x1="166.2" y1="641.7" x2="181.7" y2="641.7" stroke="#000" stroke-width="4.60" />
<line x1="815.0" y1="641.7" x2="799.5" y2="641.7" stroke="#000" stroke-width="4.60" />
<line x1="166.2" y1="621.6" x2="181.7" y2="621.6" stroke="#000" stroke-width="4.60" />
<line x1="815.0" y1="621.6" x2="799.5" y2="621.6" stroke="#000" stroke-width="4.60" />
<line x1="166.2" y1="601.6" x2="181.7" y2="601.6" stroke="#000" stroke-width="4.60" />
<line x1="815.0" y1="601.6" x2="799.5" y2="601.6" stroke="#000" stroke-width="4.60" />
<line x1="166.2" y1="581.5" x2="181.7" y2="581.5" stroke="#000" stroke-width="4.60" />
<line x1="815.0" y1="581.5" x2="799.5" y2="581.5" stroke="#000" stroke-width="4.60" />
<line x1="166.2" y1="561.4" x2="193.7" y2="561.4" stroke="#000" stroke-width="4.60" />
<line x1="815.0" y1="561.4" x2="787.5" y2="561.4" stroke="#000" stroke-width="4.60" />
<line x1="166.2" y1="541.3" x2="181.7" y2="541.3" stroke="#000" stroke-width="4.60" />
<line x1="815.0" y1="541.3" x2="799.5" y2="541.3" stroke="#000" stroke-width="4.60" />
<line x1="166.2" y1="521.2" x2="181.7" y2="521.2" stroke="#000" stroke-width="4.60" />
<line x1="815.0" y1="521.2" x2="799.5" y2="521.2" stroke="#000" stroke-width="4.60" />
<line x1="166.2" y1="501.2" x2="181.7" y2="501.2" stroke="#000" stroke-width="4.60" />
<line x1="815.0" y1="501.2" x2="799.5" y2="501.2" stroke="#000" stroke-width="4.60" />
<line x1="313.5" y1="491.6" x2="313.5" y2="963.0" stroke="#000" stroke-width="5.50" stroke-dasharray="17.3 15.79" stroke-dashoffset="7.4"/>
<rect x="196" y="572" width="200" height="177" fill="#fff"/>
<path d="M166.0 942.2 C166.4 942.2 168.2 945.1 168.9 942.3 C169.7 939.4 171.1 922.3 171.9 920.9 C172.7 919.5 174.1 931.4 174.8 931.8 C175.6 932.1 177.0 922.3 177.8 923.4 C178.6 924.6 180.0 943.9 180.7 940.4 C181.5 936.9 182.9 896.5 183.7 897.5 C184.5 898.5 185.9 947.1 186.6 948.2 C187.4 949.2 188.8 904.0 189.6 905.4 C190.4 906.7 191.8 956.3 192.5 958.3 C193.3 960.3 194.7 922.7 195.5 920.3 C196.3 917.9 197.7 939.2 198.4 940.3 C199.2 941.3 200.6 930.1 201.4 928.1 C202.2 926.0 203.6 924.1 204.3 925.0 C205.1 925.9 206.5 932.7 207.3 934.7 C208.1 936.7 209.5 941.1 210.2 939.9 C211.0 938.7 212.4 927.4 213.2 925.7 C214.0 924.0 215.4 924.7 216.1 927.1 C216.9 929.5 218.3 944.1 219.1 943.7 C219.9 943.3 221.3 927.8 222.0 923.9 C222.8 920.1 224.2 911.8 225.0 914.6 C225.8 917.4 227.2 943.1 227.9 945.1 C228.7 947.1 230.1 933.5 230.9 929.3 C231.7 925.2 233.1 913.7 233.8 914.0 C234.6 914.2 236.0 928.6 236.8 931.3 C237.6 933.9 239.0 934.7 239.7 933.9 C240.5 933.0 241.9 927.0 242.7 924.8 C243.5 922.7 244.9 916.6 245.6 917.8 C246.4 919.0 247.8 930.6 248.6 934.0 C249.4 937.3 250.8 943.6 251.5 942.7 C252.3 941.9 253.7 930.4 254.5 927.5 C255.3 924.7 256.7 920.2 257.4 921.3 C258.2 922.4 259.6 933.4 260.4 935.8 C261.2 938.2 262.6 941.2 263.3 939.4 C264.1 937.5 265.5 922.6 266.3 922.0 C267.1 921.3 268.5 931.8 269.2 934.5 C270.0 937.2 271.4 943.2 272.2 942.2 C273.0 941.3 274.4 930.4 275.1 927.5 C275.9 924.6 277.3 919.2 278.1 920.5 C278.9 921.9 280.3 936.7 281.0 937.6 C281.8 938.6 283.2 926.4 284.0 927.9 C284.8 929.3 286.2 950.7 286.9 948.8 C287.7 946.9 289.1 915.8 289.9 913.5 C290.7 911.3 292.1 931.8 292.8 932.0 C293.6 932.2 295.0 920.2 295.8 915.0 C296.6 909.8 298.0 891.0 298.7 893.0 C299.5 895.0 300.9 923.7 301.7 930.0 C302.5 936.3 303.9 942.2 304.6 940.0 C305.4 937.9 306.8 912.9 307.6 913.9 C308.4 914.9 309.8 949.7 310.5 947.5 C311.3 945.3 312.8 903.2 313.5 897.5 C314.2 891.8 315.0 897.1 316.0 905.0 C317.0 912.9 319.7 951.0 320.9 957.0 C322.1 963.0 324.0 953.5 325.0 950.0 C326.0 946.5 327.8 932.9 328.7 931.0 C329.6 929.1 331.0 933.6 332.0 936.0 C333.0 938.4 335.1 949.7 336.4 949.0 C337.7 948.3 340.3 933.7 341.6 931.0 C342.9 928.3 344.8 931.4 346.0 929.0 C347.2 926.6 349.6 913.0 350.7 913.0 C351.8 913.0 353.4 927.3 354.6 928.7 C355.8 930.1 358.7 923.3 359.8 923.5 C360.9 923.7 362.0 926.9 363.0 930.0 C364.0 933.1 366.7 946.1 367.6 946.8 C368.5 947.5 369.3 939.1 370.0 935.0 C370.7 930.9 372.1 921.7 372.8 915.7 C373.5 909.7 374.3 896.2 375.0 890.0 C375.7 883.8 377.1 873.5 378.0 869.0 C378.9 864.5 381.0 859.5 382.0 856.0 C383.0 852.5 384.9 842.7 385.7 843.0 C386.5 843.3 387.3 853.2 388.0 858.0 C388.7 862.8 390.3 877.7 391.0 879.0 C391.7 880.3 392.3 870.2 393.0 868.0 C393.7 865.8 395.3 862.8 396.0 862.5 C396.7 862.2 397.3 868.6 398.0 866.0 C398.7 863.4 400.4 842.6 401.3 843.0 C402.2 843.4 404.0 867.3 405.0 869.0 C406.0 870.7 407.9 854.4 409.0 856.0 C410.1 857.6 411.9 882.6 413.0 880.7 C414.1 878.8 415.9 844.5 416.9 841.7 C417.9 838.9 419.8 861.6 420.8 859.7 C421.8 857.8 423.6 828.0 424.6 827.3 C425.6 826.6 427.3 854.5 428.5 854.5 C429.7 854.5 432.5 830.4 433.7 827.3 C434.9 824.2 436.8 832.8 437.6 831.0 C438.4 829.2 439.1 813.6 440.0 814.0 C440.9 814.4 442.8 836.9 444.0 833.8 C445.2 830.7 448.1 795.2 449.3 791.0 C450.5 786.8 451.6 801.9 453.0 802.6 C454.4 803.3 458.1 801.9 459.7 796.0 C461.3 790.1 463.5 761.8 464.9 758.5 C466.3 755.2 468.7 771.0 470.0 771.5 C471.3 772.0 474.0 764.1 475.0 762.0 C476.0 759.9 476.9 760.3 477.8 756.0 C478.7 751.7 481.0 735.6 481.7 730.0 C482.4 724.4 482.2 714.3 483.0 714.0 C483.8 713.7 486.6 727.2 487.7 728.0 C488.8 728.8 490.1 721.3 491.0 720.0 C491.9 718.7 493.5 721.6 494.7 718.0 C495.9 714.4 498.8 695.6 500.0 693.0 C501.2 690.4 502.6 700.4 503.8 698.5 C505.0 696.6 507.3 683.7 509.0 679.0 C510.7 674.3 515.3 665.4 516.8 663.5 C518.3 661.6 519.4 667.1 520.6 664.8 C521.8 662.5 524.3 647.8 525.8 646.6 C527.3 645.4 530.2 657.2 531.8 655.7 C533.4 654.2 535.9 640.0 537.5 635.0 C539.1 630.0 542.5 619.2 544.0 618.0 C545.5 616.8 547.4 626.3 549.0 625.8 C550.6 625.3 554.0 617.8 555.7 614.0 C557.4 610.2 560.6 599.2 562.0 597.3 C563.4 595.4 564.8 601.2 566.0 600.0 C567.2 598.8 569.3 591.1 571.0 588.0 C572.7 584.9 577.4 577.7 579.0 576.5 C580.6 575.3 582.0 579.9 583.0 579.0 C584.0 578.1 585.6 570.9 586.8 570.0 C588.0 569.1 591.0 573.8 592.0 572.6 C593.0 571.4 593.6 561.0 594.6 561.0 C595.6 561.0 598.4 573.8 599.8 572.6 C601.2 571.4 603.8 555.1 605.0 552.0 C606.2 548.9 607.8 549.7 609.0 549.0 C610.2 548.3 612.8 545.1 614.0 546.7 C615.2 548.3 616.9 561.2 618.0 561.0 C619.1 560.8 621.0 549.5 622.0 545.0 C623.0 540.5 624.8 528.1 625.7 527.0 C626.6 525.9 628.2 534.5 629.0 537.0 C629.8 539.5 631.1 545.5 632.0 545.4 C632.9 545.3 634.8 535.8 636.0 536.0 C637.2 536.2 639.6 546.6 641.0 546.6 C642.4 546.6 644.8 538.2 646.5 536.0 C648.2 533.8 651.7 529.2 653.5 529.8 C655.3 530.4 658.4 540.0 659.8 540.3 C661.2 540.6 662.9 534.8 664.0 532.0 C665.1 529.2 666.8 515.4 668.2 519.3 C669.6 523.2 672.8 560.7 674.5 561.3 C676.2 561.9 679.4 527.0 680.8 523.5 C682.2 520.0 683.9 531.6 685.0 535.0 C686.1 538.4 687.8 549.1 689.2 548.7 C690.6 548.3 694.0 532.0 695.5 532.0 C697.0 532.0 699.3 548.2 700.7 548.7 C702.1 549.2 704.6 539.4 706.0 536.0 C707.4 532.6 709.8 522.1 711.2 523.5 C712.6 524.9 714.6 545.5 716.4 546.6 C718.2 547.7 723.0 532.9 724.8 532.0 C726.6 531.1 728.6 537.5 730.0 540.0 C731.4 542.5 733.5 550.2 735.3 550.8 C737.1 551.4 741.7 548.8 743.7 544.5 C745.7 540.2 748.3 518.9 750.0 518.3 C751.7 517.7 754.3 539.6 756.2 540.3 C758.1 541.0 762.6 523.2 764.6 523.5 C766.6 523.8 769.0 540.4 771.0 542.4 C773.0 544.4 777.6 537.7 779.3 538.2 C781.0 538.7 782.6 544.0 784.0 546.0 C785.4 548.0 787.9 553.9 789.8 552.9 C791.7 551.9 796.2 539.3 798.0 538.2 C799.8 537.1 801.6 543.0 803.0 545.0 C804.4 547.0 807.0 552.7 808.6 552.9 C810.2 553.1 814.1 547.4 815.0 546.6" fill="none" stroke="#0000ff" stroke-width="4.60" stroke-linejoin="round" stroke-linecap="butt" />
<path d="M166.0 933.5 C166.4 929.4 168.2 906.4 168.9 903.0 C169.7 899.6 171.1 901.2 171.9 908.3 C172.7 915.4 174.1 956.3 174.8 956.3 C175.6 956.3 177.0 909.2 177.8 908.3 C178.6 907.4 180.0 946.6 180.7 949.9 C181.5 953.2 182.9 934.7 183.7 933.0 C184.5 931.2 185.9 940.4 186.6 936.8 C187.4 933.2 188.8 906.2 189.6 906.0 C190.4 905.8 191.8 932.5 192.5 935.3 C193.3 938.1 194.7 928.1 195.5 926.8 C196.3 925.5 197.7 921.8 198.4 925.4 C199.2 929.1 200.6 954.9 201.4 954.3 C202.2 953.7 203.6 923.4 204.3 920.9 C205.1 918.5 206.5 934.8 207.3 935.7 C208.1 936.6 209.5 928.2 210.2 927.6 C211.0 927.0 212.4 930.8 213.2 931.2 C214.0 931.6 215.4 929.5 216.1 930.5 C216.9 931.5 218.3 938.5 219.1 938.5 C219.9 938.4 221.3 930.7 222.0 930.0 C222.8 929.2 224.2 933.0 225.0 932.6 C225.8 932.2 227.2 925.6 227.9 926.9 C228.7 928.1 230.1 943.4 230.9 942.1 C231.7 940.7 233.1 917.8 233.8 916.7 C234.6 915.6 236.0 929.1 236.8 933.8 C237.6 938.4 239.0 953.2 239.7 951.3 C240.5 949.3 241.9 922.5 242.7 918.8 C243.5 915.2 244.9 918.7 245.6 924.1 C246.4 929.4 247.8 960.0 248.6 959.0 C249.4 958.0 250.8 921.7 251.5 916.5 C252.3 911.3 253.7 918.4 254.5 919.8 C255.3 921.3 256.7 923.6 257.4 927.2 C258.2 930.9 259.6 943.9 260.4 947.6 C261.2 951.2 262.6 960.1 263.3 954.4 C264.1 948.7 265.5 906.3 266.3 905.0 C267.1 903.7 268.5 940.9 269.2 944.6 C270.0 948.4 271.4 934.5 272.2 933.1 C273.0 931.7 274.4 937.4 275.1 934.1 C275.9 930.8 277.3 905.5 278.1 908.4 C278.9 911.4 280.3 955.3 281.0 956.5 C281.8 957.7 283.2 919.8 284.0 917.5 C284.8 915.3 286.2 942.7 286.9 939.7 C287.7 936.7 289.1 893.7 289.9 895.0 C290.7 896.3 292.1 943.2 292.8 949.7 C293.6 956.2 295.0 948.4 295.8 943.8 C296.6 939.3 298.0 917.5 298.7 915.7 C299.5 914.0 300.9 925.6 301.7 930.4 C302.5 935.2 303.9 953.8 304.6 951.7 C305.4 949.6 306.8 917.3 307.6 914.8 C308.4 912.3 309.5 931.4 310.5 932.9 C311.6 934.4 314.6 926.4 315.7 926.0 C316.8 925.6 318.0 928.6 319.0 930.0 C320.0 931.4 322.4 934.0 323.5 936.4 C324.6 938.8 326.0 944.9 327.0 948.0 C328.0 951.1 329.9 959.1 331.0 959.8 C332.1 960.5 333.9 954.4 335.0 953.0 C336.1 951.6 338.1 948.6 339.0 949.0 C339.9 949.4 341.1 954.4 342.0 956.0 C342.9 957.6 344.3 962.2 345.5 961.0 C346.7 959.8 349.6 948.1 350.7 946.8 C351.8 945.5 353.2 949.6 354.0 951.0 C354.8 952.4 355.9 958.3 357.0 957.0 C358.1 955.7 361.0 941.4 362.4 941.6 C363.8 941.8 366.6 958.0 367.6 958.5 C368.6 959.0 369.3 949.3 370.0 945.0 C370.7 940.7 372.0 927.9 372.8 926.0 C373.6 924.1 375.0 930.5 376.0 931.0 C377.0 931.5 379.4 930.4 380.5 930.0 C381.6 929.6 383.1 927.5 384.0 928.0 C384.9 928.5 385.9 933.7 387.0 933.8 C388.1 933.9 390.9 928.9 392.0 928.7 C393.1 928.5 394.1 930.6 395.0 932.0 C395.9 933.4 397.8 938.5 398.7 939.0 C399.6 939.5 401.2 936.9 402.0 936.0 C402.8 935.1 404.2 934.5 405.0 932.4 C405.8 930.3 407.3 922.8 408.0 920.0 C408.7 917.2 409.4 912.2 410.4 911.6 C411.4 911.0 414.5 913.3 415.6 915.5 C416.7 917.7 418.1 925.1 419.0 928.0 C419.9 930.9 421.2 937.1 422.0 937.6 C422.8 938.1 424.1 933.7 425.0 932.0 C425.9 930.3 427.5 925.8 428.5 924.6 C429.5 923.4 431.5 925.9 432.4 923.3 C433.3 920.7 434.1 905.5 435.0 905.0 C435.9 904.5 438.1 918.3 439.0 919.4 C439.9 920.5 440.8 911.6 441.5 913.0 C442.2 914.4 443.3 925.2 444.0 930.0 C444.7 934.8 446.0 948.3 446.7 949.0 C447.4 949.7 448.3 939.5 449.0 935.0 C449.7 930.5 451.0 917.1 451.9 915.5 C452.8 913.9 454.8 924.0 455.8 923.3 C456.8 922.6 458.7 909.3 459.7 910.0 C460.7 910.7 462.4 927.2 463.6 928.5 C464.8 929.8 467.5 919.6 468.8 919.4 C470.1 919.2 471.8 924.8 473.0 927.0 C474.2 929.2 476.9 936.9 477.8 936.0 C478.7 935.1 479.3 925.0 480.0 920.0 C480.7 915.0 481.9 905.2 483.0 898.7 C484.1 892.2 487.0 875.2 488.0 871.4 C489.0 867.6 490.0 872.8 490.8 870.0 C491.6 867.2 493.1 851.8 494.0 850.7 C494.9 849.6 496.4 861.7 497.3 862.0 C498.2 862.3 500.2 851.9 501.0 853.0 C501.8 854.1 502.8 864.6 503.5 870.0 C504.2 875.4 505.3 892.2 505.9 893.5 C506.5 894.8 507.5 883.8 508.0 880.0 C508.5 876.2 509.2 866.1 510.0 865.0 C510.8 863.9 512.9 871.4 514.0 871.4 C515.1 871.4 517.1 864.8 518.0 865.0 C518.9 865.2 519.6 873.6 520.6 872.7 C521.6 871.8 524.8 859.3 525.8 858.4 C526.8 857.5 527.4 867.0 528.4 866.0 C529.4 865.0 532.4 852.9 533.6 850.7 C534.8 848.5 536.6 850.6 537.5 849.4 C538.4 848.2 539.0 841.8 540.0 841.6 C541.0 841.4 544.1 848.3 545.3 848.0 C546.5 847.7 548.0 839.9 549.0 839.0 C550.0 838.1 551.9 841.9 553.0 841.6 C554.1 841.3 555.9 836.2 557.0 836.4 C558.1 836.6 559.7 843.8 560.9 842.9 C562.1 842.0 565.0 831.9 566.0 830.0 C567.0 828.1 567.9 829.8 568.7 828.6 C569.5 827.4 570.8 820.6 571.8 820.8 C572.8 821.0 575.3 829.7 576.4 830.0 C577.5 830.3 579.3 823.6 580.3 823.4 C581.3 823.2 582.7 831.1 583.7 828.6 C584.7 826.1 586.9 807.1 588.0 805.0 C589.1 802.9 590.9 815.0 592.0 813.0 C593.1 811.0 595.3 791.4 596.4 789.7 C597.5 788.0 599.2 802.6 600.3 800.0 C601.4 797.4 603.7 772.1 605.0 770.0 C606.3 767.9 608.6 784.3 610.0 784.5 C611.4 784.7 614.0 775.7 615.4 771.5 C616.8 767.3 619.2 756.8 620.5 753.0 C621.8 749.2 623.8 743.8 625.0 743.0 C626.2 742.2 628.7 748.7 629.6 747.0 C630.5 745.3 631.5 735.3 632.0 730.0 C632.5 724.7 632.6 708.5 633.5 707.6 C634.4 706.7 637.5 724.0 638.7 723.0 C639.9 722.0 641.6 703.1 642.6 699.8 C643.6 696.5 645.5 701.1 646.5 698.5 C647.5 695.9 649.3 681.8 650.4 680.0 C651.5 678.2 653.5 688.0 654.6 685.0 C655.7 682.0 657.7 661.6 658.8 657.7 C659.9 653.8 662.0 657.2 663.0 655.6 C664.0 654.0 664.9 645.2 666.0 646.0 C667.1 646.8 670.1 664.8 671.4 661.9 C672.7 659.0 674.7 628.1 676.0 624.0 C677.3 619.9 679.5 633.2 680.8 631.5 C682.1 629.8 684.2 612.7 685.4 611.6 C686.6 610.5 688.8 624.7 690.0 623.0 C691.2 621.3 693.3 601.7 694.4 599.0 C695.5 596.3 697.5 605.8 698.6 603.0 C699.7 600.2 701.6 578.8 702.8 578.0 C704.0 577.2 706.2 596.0 707.6 597.0 C709.0 598.0 711.5 589.5 713.0 585.4 C714.5 581.3 716.9 567.2 718.5 566.5 C720.1 565.8 723.4 579.0 724.8 580.0 C726.2 581.0 727.8 577.1 729.0 573.8 C730.2 570.5 732.7 553.6 734.0 555.0 C735.3 556.4 737.5 584.6 738.8 584.3 C740.1 584.0 742.3 558.8 743.7 552.9 C745.1 547.0 747.5 539.6 749.0 540.0 C750.5 540.4 753.2 555.8 755.0 556.0 C756.8 556.2 760.9 543.2 762.5 541.4 C764.1 539.6 765.4 544.1 766.7 542.4 C768.0 540.7 770.5 527.3 772.0 528.8 C773.5 530.3 776.3 552.2 778.0 554.0 C779.7 555.8 782.9 545.6 784.5 542.4 C786.1 539.2 788.4 528.1 789.8 529.8 C791.2 531.5 793.6 554.3 795.0 555.0 C796.4 555.7 798.7 535.6 800.0 535.0 C801.3 534.4 803.1 546.9 804.4 550.8 C805.7 554.7 808.3 564.4 809.7 564.4 C811.1 564.4 814.3 552.6 815.0 550.8" fill="none" stroke="#00cc00" stroke-width="4.60" stroke-linejoin="round" stroke-linecap="butt" />
<path d="M166.0 901.3 C166.4 907.0 168.2 943.2 168.9 943.7 C169.7 944.2 171.1 907.6 171.9 905.0 C172.7 902.4 174.1 920.1 174.8 923.9 C175.6 927.7 177.0 936.2 177.8 933.6 C178.6 931.0 180.0 904.0 180.7 904.2 C181.5 904.4 182.9 935.2 183.7 935.1 C184.5 935.0 185.9 900.8 186.6 903.2 C187.4 905.6 188.8 951.5 189.6 953.3 C190.4 955.1 191.8 920.6 192.5 916.5 C193.3 912.3 194.7 923.5 195.5 922.1 C196.3 920.7 197.7 905.8 198.4 906.0 C199.2 906.2 200.6 922.1 201.4 923.7 C202.2 925.3 203.6 918.0 204.3 918.0 C205.1 918.0 206.5 921.6 207.3 923.8 C208.1 925.9 209.5 935.1 210.2 934.2 C211.0 933.4 212.4 916.7 213.2 917.3 C214.0 918.0 215.4 938.7 216.1 939.0 C216.9 939.3 218.3 922.1 219.1 919.6 C219.9 917.2 221.3 917.8 222.0 920.8 C222.8 923.7 224.2 940.8 225.0 941.8 C225.8 942.7 227.2 931.2 227.9 928.1 C228.7 925.0 230.1 919.2 230.9 918.6 C231.7 918.0 233.1 922.8 233.8 923.7 C234.6 924.6 236.0 922.0 236.8 925.1 C237.6 928.3 239.0 948.8 239.7 947.5 C240.5 946.3 241.9 923.2 242.7 915.9 C243.5 908.6 244.9 891.8 245.6 893.0 C246.4 894.2 247.8 922.4 248.6 925.0 C249.4 927.6 250.8 913.0 251.5 912.7 C252.3 912.4 253.7 919.6 254.5 922.6 C255.3 925.6 256.7 934.3 257.4 935.1 C258.2 936.0 259.6 930.6 260.4 928.8 C261.2 927.0 262.6 919.8 263.3 922.0 C264.1 924.1 265.5 947.8 266.3 945.0 C267.1 942.3 268.5 900.2 269.2 901.3 C270.0 902.4 271.4 951.2 272.2 953.3 C273.0 955.4 274.4 923.3 275.1 917.4 C275.9 911.6 277.3 907.2 278.1 909.3 C278.9 911.4 280.3 929.8 281.0 933.2 C281.8 936.6 283.2 938.9 284.0 934.9 C284.8 930.9 286.2 905.6 286.9 903.0 C287.7 900.4 289.1 911.4 289.9 915.1 C290.7 918.8 292.1 930.3 292.8 930.9 C293.6 931.5 295.0 918.4 295.8 919.5 C296.6 920.7 298.0 938.4 298.7 939.6 C299.5 940.8 300.9 930.7 301.7 928.2 C302.5 925.7 303.9 919.2 304.6 920.7 C305.4 922.1 306.8 938.8 307.6 939.1 C308.4 939.3 309.8 926.2 310.5 922.8 C311.3 919.4 312.5 919.4 313.5 913.6 C314.5 907.8 317.0 880.0 318.3 879.4 C319.6 878.8 322.3 905.2 323.5 909.0 C324.7 912.8 326.1 907.1 327.0 908.0 C327.9 908.9 329.3 918.5 330.0 915.7 C330.7 912.9 331.3 891.2 332.5 887.0 C333.7 882.8 337.8 889.7 339.0 884.5 C340.2 879.3 340.8 851.7 341.6 848.0 C342.4 844.3 343.8 859.4 344.7 857.0 C345.6 854.6 346.9 830.3 348.0 830.0 C349.1 829.7 351.9 851.9 353.0 854.7 C354.1 857.5 355.1 851.9 356.0 851.0 C356.9 850.1 359.0 849.2 359.8 848.0 C360.6 846.8 361.3 843.4 362.0 842.0 C362.7 840.6 363.7 842.2 365.0 837.8 C366.3 833.4 370.0 813.9 371.5 809.0 C373.0 804.1 374.8 802.7 376.0 801.0 C377.2 799.3 379.2 797.3 380.5 796.0 C381.8 794.7 384.3 791.1 385.7 791.0 C387.1 790.9 389.6 796.1 391.0 795.0 C392.4 793.9 395.0 787.0 396.0 783.0 C397.0 779.0 398.0 769.1 398.7 765.0 C399.4 760.9 400.2 755.5 401.0 752.0 C401.8 748.5 404.1 741.4 405.0 738.7 C405.9 736.0 407.3 732.1 408.0 732.0 C408.7 731.9 409.0 738.5 410.0 738.0 C411.0 737.5 414.3 729.5 415.6 728.3 C416.9 727.1 418.6 730.7 420.0 729.0 C421.4 727.3 424.5 716.9 426.0 715.4 C427.5 713.9 429.6 719.9 431.0 718.0 C432.4 716.1 434.9 703.4 436.3 701.0 C437.7 698.6 440.1 704.5 441.5 699.8 C442.9 695.1 445.4 670.8 446.7 666.0 C448.0 661.2 449.9 665.1 451.0 664.0 C452.1 662.9 453.8 659.1 455.0 658.0 C456.2 656.9 458.6 659.1 459.7 655.7 C460.8 652.3 462.6 636.1 463.6 632.3 C464.6 628.5 466.1 631.8 467.5 627.0 C468.9 622.2 472.5 600.8 474.0 596.0 C475.5 591.2 477.8 590.9 479.0 590.8 C480.2 590.7 481.9 593.3 483.0 595.0 C484.1 596.7 485.6 605.6 487.0 603.8 C488.4 602.0 492.1 584.7 493.4 581.7 C494.7 578.7 496.0 581.9 497.0 581.0 C498.0 580.1 499.7 578.9 501.0 575.0 C502.3 571.1 505.6 553.3 507.0 552.0 C508.4 550.7 510.3 564.5 511.6 565.0 C512.9 565.5 515.7 556.7 516.8 555.8 C517.9 554.9 519.0 558.2 520.0 558.0 C521.0 557.8 523.2 554.0 524.5 554.5 C525.8 555.0 528.7 559.9 530.0 562.0 C531.3 564.1 533.2 570.3 534.4 570.0 C535.6 569.7 537.8 560.4 538.8 559.7 C539.8 559.0 541.1 564.3 542.0 565.0 C542.9 565.7 544.2 563.3 545.3 565.0 C546.4 566.7 549.1 579.5 550.5 577.8 C551.9 576.1 554.4 555.0 555.7 552.0 C557.0 549.0 559.0 555.3 560.0 555.0 C561.0 554.7 562.2 550.3 563.0 550.0 C563.8 549.7 564.9 554.3 566.0 553.0 C567.1 551.7 569.8 541.1 571.0 540.0 C572.2 538.9 573.9 544.8 575.0 545.0 C576.1 545.2 577.6 540.2 579.0 541.5 C580.4 542.8 583.9 553.6 585.5 554.5 C587.1 555.4 589.5 549.9 591.0 548.0 C592.5 546.1 595.7 540.5 597.0 540.0 C598.3 539.5 599.9 542.9 601.0 544.0 C602.1 545.1 603.5 547.9 605.0 548.0 C606.5 548.1 609.9 546.1 612.0 545.0 C614.1 543.9 619.0 540.5 620.5 540.0 C622.0 539.5 622.2 541.7 623.0 541.0 C623.8 540.3 625.0 533.4 626.3 535.0 C627.6 536.6 631.2 551.6 632.6 552.9 C634.0 554.2 635.9 547.0 637.0 545.0 C638.1 543.0 639.5 536.5 641.0 538.2 C642.5 539.9 646.6 558.0 648.3 558.0 C650.0 558.0 652.2 539.9 653.5 538.2 C654.8 536.5 656.4 545.2 657.7 545.5 C659.0 545.8 661.6 540.8 663.0 540.3 C664.4 539.8 666.7 541.7 668.0 542.0 C669.3 542.3 671.0 544.7 672.4 542.4 C673.8 540.1 676.8 524.5 678.7 524.6 C680.6 524.7 684.9 544.4 687.0 543.4 C689.1 542.4 692.4 517.6 694.4 517.2 C696.4 516.8 700.3 538.1 701.7 540.3 C703.1 542.5 704.0 535.3 705.0 534.0 C706.0 532.7 707.6 529.1 709.0 530.9 C710.4 532.7 713.7 549.1 715.4 547.6 C717.1 546.1 719.9 518.3 721.7 519.3 C723.5 520.3 727.2 554.0 729.0 555.0 C730.8 556.0 733.6 527.3 735.3 526.7 C737.0 526.1 739.8 550.7 741.6 550.8 C743.4 550.9 747.2 527.7 749.0 527.7 C750.8 527.7 753.4 550.5 755.2 550.8 C757.0 551.1 760.4 529.7 762.5 529.8 C764.6 529.9 769.0 552.1 771.0 551.8 C773.0 551.5 775.5 524.6 777.2 527.7 C778.9 530.8 781.8 574.1 783.5 574.9 C785.2 575.7 787.7 536.3 789.8 534.0 C791.9 531.7 797.3 558.1 799.2 558.0 C801.1 557.9 803.0 532.3 804.4 533.0 C805.8 533.7 808.3 562.6 809.7 563.4 C811.1 564.2 814.3 542.5 815.0 539.3" fill="none" stroke="#666600" stroke-width="4.60" stroke-linejoin="round" stroke-linecap="butt" />
<rect x="166.2" y="491.6" width="648.8" height="471.4" fill="none" stroke="#000" stroke-width="4.60"/>
<line x1="202.7" y1="604.0" x2="299.1" y2="604.0" stroke="#0000ff" stroke-width="4.40" />
<text x="323.8" y="617.9" font-family="'DejaVu Sans','Liberation Sans',sans-serif" font-size="45" fill="#000">#1</text>
<line x1="202.7" y1="662.9" x2="299.1" y2="662.9" stroke="#00cc00" stroke-width="4.40" />
<text x="323.8" y="676.8" font-family="'DejaVu Sans','Liberation Sans',sans-serif" font-size="45" fill="#000">#2</text>
<line x1="202.7" y1="720.8" x2="299.1" y2="720.8" stroke="#666600" stroke-width="4.40" />
<text x="323.8" y="734.7" font-family="'DejaVu Sans','Liberation Sans',sans-serif" font-size="45" fill="#000">#3</text>
<text x="152.0" y="454.8" font-family="'DejaVu Sans','Liberation Sans',sans-serif" font-size="51.0" font-weight="normal" font-style="normal" fill="#000" text-anchor="end"  textLength="85.9" lengthAdjust="spacingAndGlyphs"><tspan font-size="62.0">-</tspan>15</text>
<text x="152.0" y="389.3" font-family="'DejaVu Sans','Liberation Sans',sans-serif" font-size="51.0" font-weight="normal" font-style="normal" fill="#000" text-anchor="end"  textLength="85.9" lengthAdjust="spacingAndGlyphs"><tspan font-size="62.0">-</tspan>10</text>
<text x="152.0" y="323.8" font-family="'DejaVu Sans','Liberation Sans',sans-serif" font-size="51.0" font-weight="normal" font-style="normal" fill="#000" text-anchor="end"  textLength="54.0" lengthAdjust="spacingAndGlyphs"><tspan font-size="62.0">-</tspan>5</text>
<text x="152.0" y="258.2" font-family="'DejaVu Sans','Liberation Sans',sans-serif" font-size="51.0" font-weight="normal" font-style="normal" fill="#000" text-anchor="end"  textLength="31.9" lengthAdjust="spacingAndGlyphs">0</text>
<text x="152.0" y="192.7" font-family="'DejaVu Sans','Liberation Sans',sans-serif" font-size="51.0" font-weight="normal" font-style="normal" fill="#000" text-anchor="end"  textLength="31.9" lengthAdjust="spacingAndGlyphs">5</text>
<text x="152.0" y="127.1" font-family="'DejaVu Sans','Liberation Sans',sans-serif" font-size="51.0" font-weight="normal" font-style="normal" fill="#000" text-anchor="end"  textLength="63.9" lengthAdjust="spacingAndGlyphs">10</text>
<text x="152.0" y="61.6" font-family="'DejaVu Sans','Liberation Sans',sans-serif" font-size="51.0" font-weight="normal" font-style="normal" fill="#000" text-anchor="end"  textLength="63.9" lengthAdjust="spacingAndGlyphs">15</text>
<text x="930.3" y="461.7" font-family="'DejaVu Sans','Liberation Sans',sans-serif" font-size="51.0" font-weight="normal" font-style="normal" fill="#000" text-anchor="end" ><tspan font-size="62.0">-</tspan>0.3</text>
<text x="930.3" y="393.9" font-family="'DejaVu Sans','Liberation Sans',sans-serif" font-size="51.0" font-weight="normal" font-style="normal" fill="#000" text-anchor="end" ><tspan font-size="62.0">-</tspan>0.2</text>
<text x="930.3" y="326.2" font-family="'DejaVu Sans','Liberation Sans',sans-serif" font-size="51.0" font-weight="normal" font-style="normal" fill="#000" text-anchor="end" ><tspan font-size="62.0">-</tspan>0.1</text>
<text x="930.3" y="258.4" font-family="'DejaVu Sans','Liberation Sans',sans-serif" font-size="51.0" font-weight="normal" font-style="normal" fill="#000" text-anchor="end" >0.0</text>
<text x="930.3" y="190.7" font-family="'DejaVu Sans','Liberation Sans',sans-serif" font-size="51.0" font-weight="normal" font-style="normal" fill="#000" text-anchor="end" >0.1</text>
<text x="930.3" y="122.9" font-family="'DejaVu Sans','Liberation Sans',sans-serif" font-size="51.0" font-weight="normal" font-style="normal" fill="#000" text-anchor="end" >0.2</text>
<text x="930.3" y="55.2" font-family="'DejaVu Sans','Liberation Sans',sans-serif" font-size="51.0" font-weight="normal" font-style="normal" fill="#000" text-anchor="end" >0.3</text>
<text x="151.5" y="981.6" font-family="'DejaVu Sans','Liberation Sans',sans-serif" font-size="51.0" font-weight="normal" font-style="normal" fill="#000" text-anchor="end" >0.0</text>
<text x="151.5" y="881.2" font-family="'DejaVu Sans','Liberation Sans',sans-serif" font-size="51.0" font-weight="normal" font-style="normal" fill="#000" text-anchor="end" >0.1</text>
<text x="151.5" y="780.8" font-family="'DejaVu Sans','Liberation Sans',sans-serif" font-size="51.0" font-weight="normal" font-style="normal" fill="#000" text-anchor="end" >0.2</text>
<text x="151.5" y="680.4" font-family="'DejaVu Sans','Liberation Sans',sans-serif" font-size="51.0" font-weight="normal" font-style="normal" fill="#000" text-anchor="end" >0.3</text>
<text x="151.5" y="580.0" font-family="'DejaVu Sans','Liberation Sans',sans-serif" font-size="51.0" font-weight="normal" font-style="normal" fill="#000" text-anchor="end" >0.4</text>
<text x="166.2" y="1030.0" font-family="'DejaVu Sans','Liberation Sans',sans-serif" font-size="51.0" font-weight="normal" font-style="normal" fill="#000" text-anchor="middle"  textLength="85.9" lengthAdjust="spacingAndGlyphs"><tspan font-size="62.0">-</tspan>50</text>
<text x="313.5" y="1030.0" font-family="'DejaVu Sans','Liberation Sans',sans-serif" font-size="51.0" font-weight="normal" font-style="normal" fill="#000" text-anchor="middle"  textLength="31.9" lengthAdjust="spacingAndGlyphs">0</text>
<text x="460.8" y="1030.0" font-family="'DejaVu Sans','Liberation Sans',sans-serif" font-size="51.0" font-weight="normal" font-style="normal" fill="#000" text-anchor="middle"  textLength="63.9" lengthAdjust="spacingAndGlyphs">50</text>
<text x="608.0" y="1030.0" font-family="'DejaVu Sans','Liberation Sans',sans-serif" font-size="51.0" font-weight="normal" font-style="normal" fill="#000" text-anchor="middle"  textLength="95.8" lengthAdjust="spacingAndGlyphs">100</text>
<text x="755.2" y="1030.0" font-family="'DejaVu Sans','Liberation Sans',sans-serif" font-size="51.0" font-weight="normal" font-style="normal" fill="#000" text-anchor="middle"  textLength="95.8" lengthAdjust="spacingAndGlyphs">150</text>
<text x="-191.5" y="0.0" font-family="'DejaVu Sans','Liberation Sans',sans-serif" font-size="51.0" font-weight="bold" font-style="normal" fill="#000" text-anchor="start" textLength="387" lengthAdjust="spacingAndGlyphs" transform="translate(39.3 242.5) rotate(-90)">Voltage [ mV ]</text>
<text x="-164.0" y="0.0" font-family="'DejaVu Sans','Liberation Sans',sans-serif" font-size="51.0" font-weight="bold" font-style="normal" fill="#000" text-anchor="start" textLength="333" lengthAdjust="spacingAndGlyphs" transform="translate(993.7 241.5) rotate(-90)">Voltage [ V ]</text>
<text x="0.0" y="0.0" font-family="'DejaVu Sans','Liberation Sans',sans-serif" font-size="54.0" font-weight="bold" font-style="italic" fill="#000" text-anchor="middle" transform="translate(39.6 727) rotate(-90)">s</text>
<text x="316.6" y="1095.5" font-family="'DejaVu Sans','Liberation Sans',sans-serif" font-size="51" font-weight="bold" text-anchor="start" textLength="342" lengthAdjust="spacingAndGlyphs" fill="#000">Time, <tspan font-style="italic">t</tspan> [ ns ]</text>
<text x="215.5" y="413.2" font-family="'DejaVu Sans','Liberation Sans',sans-serif" font-size="50.5" font-weight="normal" font-style="normal" fill="#000" text-anchor="start" textLength="68" lengthAdjust="spacingAndGlyphs">(a)</text>
<text x="216.0" y="571.2" font-family="'DejaVu Sans','Liberation Sans',sans-serif" font-size="50.5" font-weight="normal" font-style="normal" fill="#000" text-anchor="start" textLength="69.5" lengthAdjust="spacingAndGlyphs">(b)</text>
<text x="179.6" y="161.7" font-family="'DejaVu Sans','Liberation Sans',sans-serif" font-size="45.0" font-weight="normal" font-style="normal" fill="#000" text-anchor="start" textLength="124.5" lengthAdjust="spacingAndGlyphs">Input</text>
<text x="346" y="158" font-family="'Liberation Serif','DejaVu Serif',serif" font-size="50" font-style="italic" fill="#0000ff" stroke="#0000ff" stroke-width="0.7">v<tspan font-style="normal" font-size="36.5" dy="9" stroke-width="0.35">amp</tspan></text>
<text x="353" y="328.7" font-family="'Liberation Serif','DejaVu Serif',serif" font-size="50" font-style="italic" fill="#ff0000" stroke="#ff0000" stroke-width="0.7">v<tspan font-style="normal" font-size="37" dy="9" stroke-width="0.35">out</tspan></text>
<path d="M203 112.3 L273.5 112.3 L203 83.8 L250 83.8" fill="none" stroke="#000" stroke-width="6.4" stroke-linejoin="miter"/>
<path d="M273.5 83.8 L248.5 70.9 L248.5 96.4 Z" fill="#000"/>
<path d="M401 137 L473 137 L401 137 L473 109.5 L425 109.5" fill="none" stroke="#0000ff" stroke-width="6.4" stroke-linejoin="miter"/>
<path d="M401.5 109.5 L426.8 96.8 L426.8 122 Z" fill="#0000ff"/>
<path d="M468 352 L396.5 352 L468 381.4 L421 381.4" fill="none" stroke="#ff0000" stroke-width="6.4" stroke-linejoin="miter"/>
<path d="M397 381.4 L422.4 368.6 L422.4 394 Z" fill="#ff0000"/>
</svg>
</body>
</html>
